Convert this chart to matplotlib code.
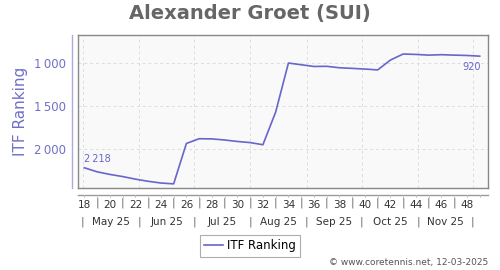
import numpy as np
import matplotlib
matplotlib.use("Agg")
import matplotlib.pyplot as plt
import matplotlib.transforms as mtransforms

# weekly ITF ranking, weeks 18..49 of 2025
weeks = list(range(18, 50))
ranking = [2218, 2265, 2295, 2320, 2350, 2375, 2395, 2405, 1935, 1880, 1882, 1895,
           1912, 1925, 1950, 1570, 1000, 1020, 1040, 1038, 1055, 1062, 1070, 1080,
           965, 895, 900, 908, 903, 908, 912, 920]

week_ticks = list(range(18, 49, 2))
month_names = ["May 25", "Jun 25", "Jul 25", "Aug 25", "Sep 25", "Oct 25", "Nov 25"]
month_days = [31, 30, 31, 31, 30, 31, 30]
may_first = 17.88  # position of 1 May on the week axis
y_ticks = [1000, 1500, 2000]

line_col = "#6666cc"
label_col = "#7070c8"

month_edges = may_first + np.concatenate([[0], np.cumsum(month_days)]) / 7.0


def fmt(v):
    return f"{v:,}".replace(",", "\u2009")


fig = plt.figure(figsize=(5, 2.7), dpi=100)
ax = fig.add_axes([78 / 500, 1 - 188 / 270, 410 / 500, 153 / 270])
ax.set_facecolor("#f9f9f9")

ax.plot(weeks, ranking, color=line_col, lw=1.2, label="ITF Ranking")

ax.set_xlim(17.5, 49.65)
ax.set_ylim(2453, 674)

# grid
for m in month_edges:
    ax.axvline(m, color="#dddddd", lw=0.7, ls=(0, (3, 3)), zorder=0)
for t in y_ticks:
    ax.axhline(t, color="#dddddd", lw=0.7, ls=(0, (3, 3)), zorder=0)

for s in ax.spines.values():
    s.set_color("#888888")
    s.set_linewidth(1)

ax.set_yticks(y_ticks)
ax.set_yticklabels([fmt(t) for t in y_ticks])
ax.tick_params(axis="y", length=0, pad=9, labelsize=8.5, labelcolor=label_col)
ax.set_ylabel("ITF Ranking", color=label_col, fontsize=11, labelpad=4)

ax.set_xticks(week_ticks)
ax.set_xticklabels([str(w) for w in week_ticks])
ax.tick_params(axis="x", length=0, pad=9, labelsize=7.5, labelcolor="#333333")

# offset axis lines
ax.plot([-6 / 410, -6 / 410], [0, 1], transform=ax.transAxes, color="#aaaadd",
        lw=1, clip_on=False)
ax.plot([0, 1], [-7 / 153, -7 / 153], transform=ax.transAxes, color="#999999",
        lw=1, clip_on=False)

trans = mtransforms.blended_transform_factory(ax.transData, ax.transAxes)
for w in weeks:
    ax.plot([w, w], [-7 / 153, -9 / 153], transform=trans, color="#bbbbbb",
            lw=0.6, clip_on=False)
for w in range(19, 48, 2):
    ax.text(w, -15 / 153, "|", transform=trans, ha="center", va="center",
            fontsize=7.5, color="#666666")
for m in month_edges:
    ax.text(m, -34 / 153, "|", transform=trans, ha="center", va="center",
            fontsize=7.5, color="#666666")
for i, name in enumerate(month_names):
    ax.text((month_edges[i] + month_edges[i + 1]) / 2, -34 / 153, name,
            transform=trans, ha="center", va="center", fontsize=7.5,
            color="#333333")

# first / last value labels
ax.annotate(fmt(ranking[0]), (weeks[0], ranking[0]), xytext=(0, 3),
            textcoords="offset points", ha="left", va="bottom", fontsize=7,
            color=line_col)
ax.annotate(fmt(ranking[-1]), (weeks[-1], ranking[-1]), xytext=(1, -4),
            textcoords="offset points", ha="right", va="top", fontsize=7,
            color=line_col)

fig.text(0.5, 1 - 13 / 270, "Alexander Groet (SUI)", ha="center", va="center",
         fontsize=14, fontweight="bold", color="#666666")

leg = fig.legend(loc="center", bbox_to_anchor=(0.5, 1 - 246 / 270), fontsize=8.5,
                 frameon=True, fancybox=False, handlelength=1.6,
                 handletextpad=0.4, borderpad=0.35, borderaxespad=0)
leg.get_frame().set_edgecolor("#999999")
leg.get_frame().set_linewidth(0.8)

fig.text(488 / 500, 1 - 262 / 270, "\u00a9 www.coretennis.net, 12-03-2025",
         ha="right", va="center", fontsize=6.5, color="#555555")

fig.savefig("out.png", dpi=100)
